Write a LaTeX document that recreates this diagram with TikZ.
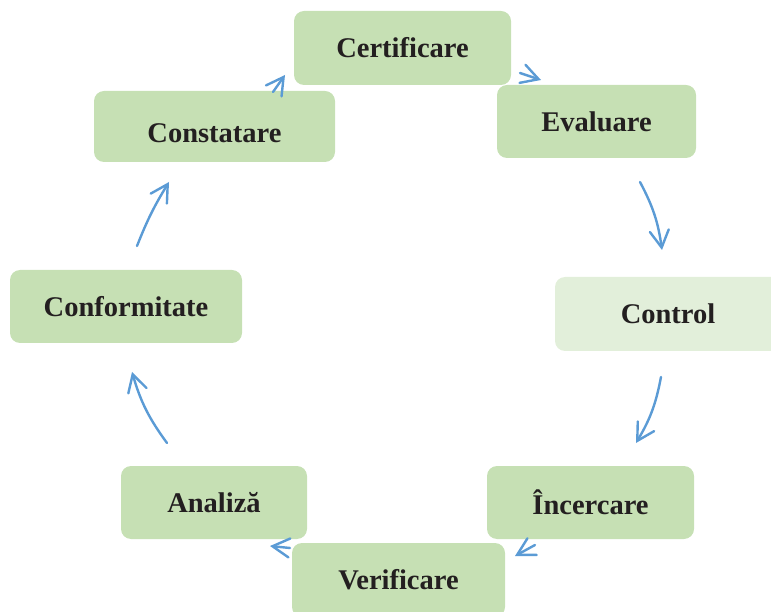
\documentclass[tikz,border=0pt]{standalone}
\usepackage{fontspec}
\setmainfont{Liberation Serif}
\usetikzlibrary{arrows.meta}
\definecolor{boxgreen}{HTML}{C6E0B4}
\definecolor{boxlight}{HTML}{E2EFDA}
\definecolor{arrowblue}{HTML}{5B9BD5}
\definecolor{txt}{HTML}{231F20}
\tikzset{
  stage/.style={fill=boxgreen, rounded corners=10pt, inner sep=0pt, text=txt,
    font=\fontsize{28.5}{34}\selectfont\bfseries, anchor=center},
  flow/.style={draw=arrowblue, line width=2.4pt, line cap=round,
    -{Straight Barb[length=17pt,width=19pt,line cap=round]}},
}
\begin{document}
\begin{tikzpicture}[x=1pt,y=1pt]
\useasboundingbox (0,0) rectangle (771,611);
% boxes
\node[stage, minimum width=217pt, minimum height=74pt] (cert) at (402.5,563) {Certificare};
\node[stage, minimum width=241pt, minimum height=71pt, text height=32pt, text depth=0pt] (const) at (214.5,484.5) {Constatare};
\node[stage, minimum width=199pt, minimum height=73pt] (eval) at (596.5,489.5) {Evaluare};
\node[stage, fill=boxlight, minimum width=226pt, minimum height=74pt] (ctrl) at (668,297) {Control};
\node[stage, minimum width=232pt, minimum height=73pt] (conf) at (126,304.5) {Conformitate};
\node[stage, minimum width=186pt, minimum height=73pt] (anal) at (214,108.5) {Analiză};
\node[stage, minimum width=213pt, minimum height=74pt] (verif) at (398.5,31) {Verificare};
\node[stage, minimum width=207pt, minimum height=73pt] (inc) at (590.5,108.5) {Încercare};
% connector end points
\coordinate (a1s) at (273,519);  \coordinate (a1e) at (285,536);
\coordinate (a2s) at (520,538);  \coordinate (a2e) at (541,531);
\coordinate (a3s) at (640,429);  \coordinate (a3e) at (662,361);
\coordinate (a4s) at (661,234);  \coordinate (a4e) at (636,168);
\coordinate (a5s) at (535,66);   \coordinate (a5e) at (515,55);
\coordinate (a6s) at (290,63);   \coordinate (a6e) at (270,65);
\coordinate (a7s) at (167,168);  \coordinate (a7e) at (132,239);
\coordinate (a8s) at (137,365);  \coordinate (a8e) at (169,429);
% connectors
\draw[flow] (a1s) -- (a1e);
\draw[flow] (a2s) -- (a2e);
\draw[flow] (a3s) to[bend left=10] (a3e);
\draw[flow] (a4s) to[bend left=10] (a4e);
\draw[flow] (a5s) -- (a5e);
\draw[flow] (a6s) -- (a6e);
\draw[flow] (a7s) to[bend left=10] (a7e);
\draw[flow] (a8s) to[bend left=5] (a8e);
\end{tikzpicture}
\end{document}
